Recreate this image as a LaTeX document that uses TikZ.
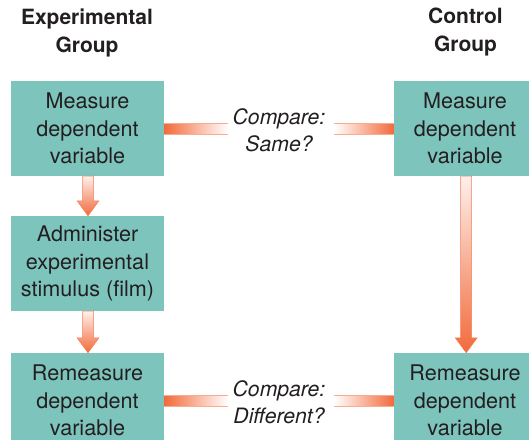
\documentclass[tikz,border=0pt]{standalone}
\usepackage{fontspec}
\setmainfont{TeX Gyre Heros}
\usetikzlibrary{calc}
\definecolor{tealbox}{HTML}{7DC4BC}
\definecolor{orng}{HTML}{F26A3B}
\definecolor{txt}{HTML}{231F20}
\begin{document}
\begin{tikzpicture}[x=1pt,y=-1pt,
  box/.style={fill=tealbox, minimum width=153pt, minimum height=95pt, align=center,
    inner sep=0pt, text=txt, font=\fontsize{21.6}{27.3}\selectfont},
  head/.style={align=center, inner sep=0pt, text=txt, font=\fontsize{21}{28}\selectfont\bfseries},
  cmp/.style={align=center, inner sep=0pt, text=txt, font=\fontsize{21.2}{27}\selectfont\itshape},
  edgeline/.style={draw=orng!55, line width=0.6pt},
  varrow/.style={top color=orng!10, bottom color=orng, draw=orng!85, line width=0.5pt}
]
\useasboundingbox (0,0) rectangle (529,439);

\node[head] (h1) at (87,32.5) {Experimental\\Group};
\node[head] (h2) at (465.5,32.5) {Control\\Group};

\node[box] (m1) at (87.5,128.5) {Measure\\dependent\\variable};
\node[box] (a1) at (87.5,263.5) {Administer\\experimental\\stimulus (film)};
\node[box] (r1) at (87.5,400.5) {Remeasure\\dependent\\variable};
\node[box, minimum width=142pt] (m2) at (465,128.5) {Measure\\dependent\\variable};
\node[box, minimum width=142pt] (r2) at (465,400.5) {Remeasure\\dependent\\variable};

\node[cmp] (c1) at (279,130) {Compare:\\Same?};
\node[cmp] (c2) at (279,402.5) {Compare:\\Different?};

% horizontal connectors
\foreach \L/\C/\R/\yy in {m1/c1/m2/128.5, r1/c2/r2/401}{
  \coordinate (gl) at ($(\C.center)+(-51,0)$);
  \coordinate (gr) at ($(\C.center)+(55,0)$);
  \shade[left color=orng, middle color=orng!45, right color=white]
    (\L.east |- 0,\yy-5.5) rectangle (gl |- 0,\yy+5.5);
  \shade[left color=white, middle color=orng!45, right color=orng]
    (gr |- 0,\yy-5.5) rectangle (\R.west |- 0,\yy+5.5);
  \draw[edgeline] (\L.east |- 0,\yy-5.5) -- (gl |- 0,\yy-5.5)
                  (\L.east |- 0,\yy+5.5) -- (gl |- 0,\yy+5.5)
                  (gr |- 0,\yy-5.5) -- (\R.west |- 0,\yy-5.5)
                  (gr |- 0,\yy+5.5) -- (\R.west |- 0,\yy+5.5);
}

% vertical arrows
\foreach \T/\B/\dx in {m1/a1/0.5, a1/r1/0.5, m2/r2/1.2}{
  \shadedraw[varrow]
    ($(\T.south)+(\dx-5.5,0)$) -- ($(\B.north)+(\dx-5.5,-15)$) -- ($(\B.north)+(\dx-11,-15)$)
    -- ($(\B.north)+(\dx,0)$) -- ($(\B.north)+(\dx+11,-15)$) -- ($(\B.north)+(\dx+5.5,-15)$)
    -- ($(\T.south)+(\dx+5.5,0)$) -- cycle;
}
\end{tikzpicture}
\end{document}
